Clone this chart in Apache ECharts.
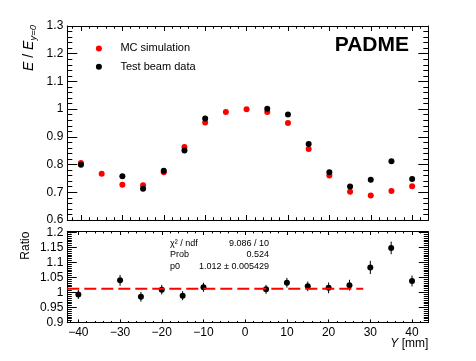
<!DOCTYPE html>
<html>
<head>
<meta charset="UTF-8">
<title>PADME E / E(y=0)</title>
<script src="https://cdn.jsdelivr.net/npm/echarts@6/dist/echarts.min.js"></script>
<style>
  html,body{margin:0;padding:0;background:#fff;}
</style>
</head>
<body>
<div id="main" style="width:476px;height:361px;"></div>
<script>
// beam position Y [mm] and energy normalised to Y=0
var mcY   = [-40,-35,-30,-25,-20,-15,-10,-5,0,5,10,15,20,25,30,35,40];
var mcE   = [0.806,0.767,0.727,0.725,0.772,0.863,0.952,0.990,1.000,0.990,0.950,0.856,0.761,0.702,0.688,0.705,0.722];
var tbY   = [-40,-30,-25,-20,-15,-10,5,10,15,20,25,30,35,40];
var tbE   = [0.799,0.758,0.713,0.778,0.851,0.966,1.001,0.981,0.874,0.772,0.721,0.745,0.812,0.748];
// data / MC
var ratio    = [0.993,1.040,0.985,1.009,0.989,1.017,1.010,1.032,1.020,1.015,1.024,1.083,1.148,1.038];
var ratioErr = [0.015,0.018,0.016,0.016,0.015,0.015,0.015,0.016,0.016,0.018,0.018,0.022,0.021,0.018];
// pol0 fit
var fitP0 = 1.012;
var fitRange = [-42.65, 28.3];
var statLines = [['\u03c7\u00b2 / ndf','9.086 / 10'],['Prob','0.524'],['p0','1.012 \u00b1 0.005429']];
// tick labels
var xTicks = [-40,-30,-20,-10,0,10,20,30,40];
var yTopTicks = [0.6,0.7,0.8,0.9,1,1.1,1.2,1.3];
var yRatioTicks = [0.9,0.95,1,1.05,1.1,1.15,1.2];

var FONT = 'Liberation Sans';
var topX = [-43.3, 43.9], ratX = [-42.65, 43.9];
var topYr = [0.6, 1.3], ratYr = [0.899, 1.202];

function steps(min, max, step) {
  var out = [];
  var k = Math.ceil(min / step - 1e-6);
  for (; k * step <= max + 1e-9; k++) out.push(+(k * step).toFixed(6));
  return out;
}
function fmtX(v) { return v < 0 ? '\u2212' + (-v) : String(v); }
function fmtY(v) { return String(+(+v).toFixed(3)); }

function ax(grid, rng, pos, ticks, len, line, labels) {
  return {
    type: 'value', gridIndex: grid, min: rng[0], max: rng[1], position: pos,
    axisLine: {show: line, onZero: false, lineStyle: {color: '#000', width: 1}},
    axisTick: {show: true, inside: true, length: len, customValues: ticks, lineStyle: {color: '#000', width: 1}},
    axisLabel: labels ? {show: true, customValues: labels.v, formatter: labels.f, margin: labels.m,
                         fontSize: 12, fontFamily: FONT, color: '#000'} : {show: false},
    splitLine: {show: false}
  };
}

var xMinorTop = steps(topX[0], topX[1], 2);
var xMinorRat = steps(ratX[0], ratX[1], 2);
var yMinorTop = steps(topYr[0], topYr[1], 0.02);
var yMinorRat = steps(ratYr[0], ratYr[1], 0.00625);

var xAxes = [
  ax(0, topX, 'bottom', xTicks, 5, true, null),
  ax(0, topX, 'bottom', xMinorTop, 2.7, false, null),
  ax(0, topX, 'top', xTicks, 5, true, null),
  ax(0, topX, 'top', xMinorTop, 2.7, false, null),
  ax(1, ratX, 'bottom', xTicks, 3.3, true, {v: xTicks, f: fmtX, m: 4}),
  ax(1, ratX, 'bottom', xMinorRat, 1.7, false, null),
  ax(1, ratX, 'top', xTicks, 3.3, true, null),
  ax(1, ratX, 'top', xMinorRat, 1.7, false, null)
];
var yAxes = [
  ax(0, topYr, 'left', yTopTicks, 10, true, {v: yTopTicks, f: fmtY, m: 4}),
  ax(0, topYr, 'left', yMinorTop, 5, false, null),
  ax(0, topYr, 'right', yTopTicks, 10, true, null),
  ax(0, topYr, 'right', yMinorTop, 5, false, null),
  ax(1, ratYr, 'left', yRatioTicks, 9.5, true, {v: yRatioTicks, f: fmtY, m: 4}),
  ax(1, ratYr, 'left', yMinorRat, 4.5, false, null),
  ax(1, ratYr, 'right', yRatioTicks, 9.5, true, null),
  ax(1, ratYr, 'right', yMinorRat, 4.5, false, null)
];

var mcData = mcY.map(function (x, i) { return [x, mcE[i]]; });
var tbData = tbY.map(function (x, i) { return [x, tbE[i]]; });
var ratData = tbY.map(function (x, i) { return [x, ratio[i], ratioErr[i]]; });

var graphics = [
  {type: 'text', x: 409, y: 45, style: {text: 'PADME', fontSize: 21, fontWeight: 'bold', fontFamily: FONT,
    fill: '#000', align: 'right', verticalAlign: 'middle'}},
  {type: 'text', x: 29.5, y: 25, rotation: Math.PI / 2, style: {
    text: '{i|E} / {i|E}{s|y=0}', fontSize: 14, fontFamily: FONT, fill: '#000', align: 'right', verticalAlign: 'middle',
    rich: {i: {fontStyle: 'italic', fontSize: 14, fontFamily: FONT, fill: '#000'},
           s: {fontStyle: 'italic', fontSize: 9.5, fontFamily: FONT, fill: '#000', padding: [7, 0, 0, 0]}}}},
  {type: 'text', x: 25.7, y: 231.7, rotation: Math.PI / 2, style: {text: 'Ratio', fontSize: 12, fontFamily: FONT,
    fill: '#000', align: 'right', verticalAlign: 'middle'}},
  {type: 'text', x: 428.3, y: 344, style: {text: '{i|Y} [mm]', fontSize: 12, fontFamily: FONT, fill: '#000',
    align: 'right', verticalAlign: 'middle', rich: {i: {fontStyle: 'italic', fontSize: 12, fontFamily: FONT, fill: '#000'}}}}
];
var rowY = [243.3, 255, 266.7];
statLines.forEach(function (row, i) {
  graphics.push({type: 'text', x: 170, y: rowY[i], style: {text: row[0], fontSize: 9, fontFamily: FONT, fill: '#000',
    align: 'left', verticalAlign: 'middle'}});
  graphics.push({type: 'text', x: 269, y: rowY[i], style: {text: row[1], fontSize: 9, fontFamily: FONT, fill: '#000',
    align: 'right', verticalAlign: 'middle'}});
});

var chart = echarts.init(document.getElementById('main'));
chart.setOption({
  animation: false,
  backgroundColor: '#fff',
  textStyle: {fontFamily: FONT},
  grid: [
    {left: 67.3, top: 26, width: 361, height: 194},
    {left: 67.3, top: 231.7, width: 361, height: 91}
  ],
  xAxis: xAxes,
  yAxis: yAxes,
  legend: {
    orient: 'vertical', left: 95.9, top: 41.4, padding: 0, itemWidth: 33, itemHeight: 6, itemGap: 4.3,
    icon: 'circle', selectedMode: false,
    textStyle: {fontSize: 11, fontFamily: FONT, color: '#000', lineHeight: 14},
    data: ['MC simulation', 'Test beam data']
  },
  graphic: graphics,
  series: [
    {type: 'scatter', name: 'MC simulation', xAxisIndex: 0, yAxisIndex: 0, data: mcData,
     symbolSize: 6, itemStyle: {color: '#ff0000', opacity: 1}},
    {type: 'scatter', name: 'Test beam data', xAxisIndex: 0, yAxisIndex: 0, data: tbData,
     symbolSize: 6, itemStyle: {color: '#000', opacity: 1}},
    {type: 'line', name: 'fit', xAxisIndex: 4, yAxisIndex: 4, silent: true, symbol: 'none',
     data: [[fitRange[0], fitP0], [fitRange[1], fitP0]],
     lineStyle: {color: '#ff0000', width: 2, type: [12, 5]}},
    {type: 'custom', name: 'err', xAxisIndex: 4, yAxisIndex: 4, silent: true, data: ratData,
     encode: {x: 0, y: 1},
     renderItem: function (params, api) {
       var x = api.value(0), y = api.value(1), e = api.value(2);
       var p1 = api.coord([x, y - e]), p2 = api.coord([x, y + e]);
       return {type: 'line', shape: {x1: p1[0], y1: p1[1], x2: p2[0], y2: p2[1]},
               style: {stroke: '#000', lineWidth: 1}};
     }},
    {type: 'scatter', name: 'ratio', xAxisIndex: 4, yAxisIndex: 4, data: ratData.map(function (d) { return [d[0], d[1]]; }),
     symbolSize: 6, itemStyle: {color: '#000', opacity: 1}}
  ]
});
</script>
</body>
</html>
